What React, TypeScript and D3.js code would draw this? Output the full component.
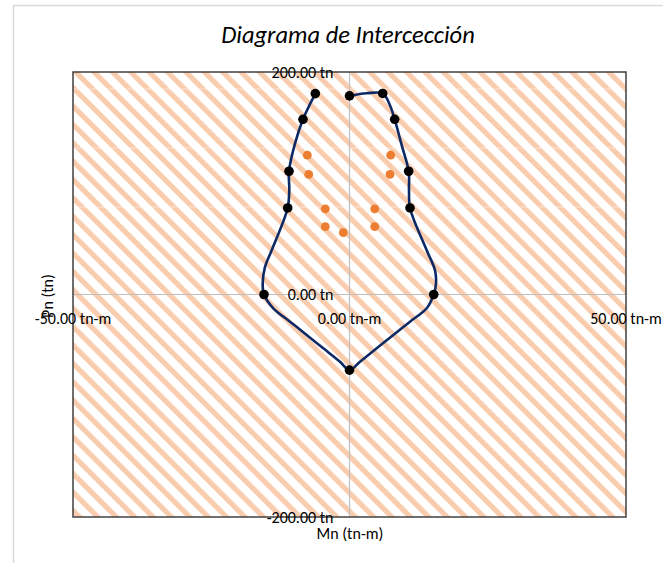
import React from "react";
import * as d3 from "d3";

// ---- Data ----
const title = "Diagrama de Intercección";
const xTitle = "Mn (tn-m)";
const yTitle = "Pn (tn)";

const xTickValues = [-50, 0, 50];
const yTickValues = [-200, 0, 200];

// Interaction curve (smoothed line), traced around from the top-centre point
const curveMn = [
  0, 3.1, 6.0, 7.2, 8.17, 9.44, 10.7, 10.76, 10.94, 13.96, 15.46, 15.64, 15.23,
  13.96, 10.94, 7.92, 4.92, 1.9, 0, -1.72, -4.74, -7.74, -10.76, -13.78, -15.46,
  -15.7, -15.28, -14.07, -11.18, -10.89, -10.94, -9.86, -8.41, -6.18,
];
const curvePn = [
  178.5, 180.9, 180.7, 171.5, 157.5, 134.2, 110.8, 93.7, 77.8, 39.8, 21.8, 9.9, 0,
  -12.4, -24.4, -36.4, -48.3, -60.4, -68.0, -60.4, -48.3, -36.4, -24.4, -12.4, 0,
  9.9, 24.9, 39.8, 77.8, 93.7, 110.8, 135.6, 157.5, 180.6,
];

// Black markers on the diagram
const diagMn = [0, 6.0, 8.17, 10.7, 10.94, 15.23, 0, -15.46, -11.18, -10.94, -8.41, -6.18];
const diagPn = [178.5, 180.7, 157.5, 110.8, 77.8, 0, -68.0, 0, 77.8, 110.8, 157.5, 180.6];

// Orange load points
const loadMn = [-7.63, 7.45, -7.38, 7.32, -4.38, 4.56, -4.38, 4.56, -1.12];
const loadPn = [125.2, 125.2, 107.9, 107.9, 77.0, 77.0, 61.1, 61.1, 55.7];

const W = 663;
const H = 563;
const FONT = "Calibri, Carlito, Lato, 'Open Sans', sans-serif";

export default function App() {
  const x = d3.scaleLinear().domain([-50, 50]).range([73, 626]);
  const y = d3.scaleLinear().domain([-200, 200]).range([517, 72]);

  const curvePts: [number, number][] = curveMn.map((m, i) => [m, curvePn[i]]);
  const line = d3
    .line<[number, number]>()
    .x((d) => x(d[0]))
    .y((d) => y(d[1]))
    .curve(d3.curveCatmullRom.alpha(0.5));

  const [x0, x1] = x.range();
  const [yb, yt] = y.range();
  const seams = [89, 148, 207];

  return (
    <svg
      width={W}
      height={H}
      style={{ position: "absolute", left: 0, top: 0, background: "#fff" }}
      fontFamily={FONT}
    >
      <defs>
        <pattern
          id="hatch"
          patternUnits="userSpaceOnUse"
          width={13}
          height={13}
          patternTransform="rotate(-45)"
        >
          <rect x={0} y={0} width={13} height={13} fill="#ffffff" />
          <rect x={0} y={0} width={5.2} height={13} fill="#F9CCAE" />
        </pattern>
      </defs>

      {/* outer chart border */}
      <rect x={13.5} y={5.5} width={W + 20} height={H + 20} fill="#fff" stroke="#D9D9D9" strokeWidth={1.5} />

      {/* title */}
      <text x={348} y={43} textAnchor="middle" fontSize={24.5} fontStyle="italic" fill="#000">
        {title}
      </text>

      {/* plot area */}
      <rect x={x0} y={yt} width={x1 - x0} height={yb - yt} fill="url(#hatch)" />
      {seams.map((s) => (
        <line key={s} x1={x0} x2={x1} y1={s} y2={s} stroke="#fff" strokeOpacity={0.45} strokeWidth={1} />
      ))}

      {/* axis lines through origin */}
      <line x1={x(0)} x2={x(0)} y1={yt} y2={yb} stroke="#BFBFBF" strokeWidth={1.2} />
      <line x1={x0} x2={x1} y1={y(0)} y2={y(0)} stroke="#BFBFBF" strokeWidth={1.2} />

      {/* plot border */}
      <rect x={x0} y={yt} width={x1 - x0} height={yb - yt} fill="none" stroke="#404040" strokeWidth={1.5} />

      {/* curve */}
      <path d={line(curvePts) || ""} fill="none" stroke="#0E2A66" strokeWidth={2.6} strokeLinejoin="round" />

      {/* diagram markers */}
      {diagMn.map((m, i) => (
        <circle key={"d" + i} cx={x(m)} cy={y(diagPn[i])} r={4.8} fill="#000" />
      ))}

      {/* load points */}
      {loadMn.map((m, i) => (
        <circle key={"l" + i} cx={x(m)} cy={y(loadPn[i])} r={4.4} fill="#ED7D31" />
      ))}

      {/* y tick labels */}
      {yTickValues.map((v) => (
        <text key={"yt" + v} x={x(0) - 16} y={y(v) + 5.5} textAnchor="end" fontSize={16} fill="#000">
          {v.toFixed(2) + " tn"}
        </text>
      ))}

      {/* x tick labels */}
      {xTickValues.map((v) => (
        <text key={"xt" + v} x={x(v)} y={y(0) + 29} textAnchor="middle" fontSize={16} fill="#000">
          {v.toFixed(2) + " tn-m"}
        </text>
      ))}

      {/* axis titles */}
      <text x={350} y={539} textAnchor="middle" fontSize={16} fill="#000">
        {xTitle}
      </text>
      <text
        transform={`translate(53, 296) rotate(-90)`}
        textAnchor="middle"
        fontSize={16}
        fill="#000"
      >
        {yTitle}
      </text>
    </svg>
  );
}
